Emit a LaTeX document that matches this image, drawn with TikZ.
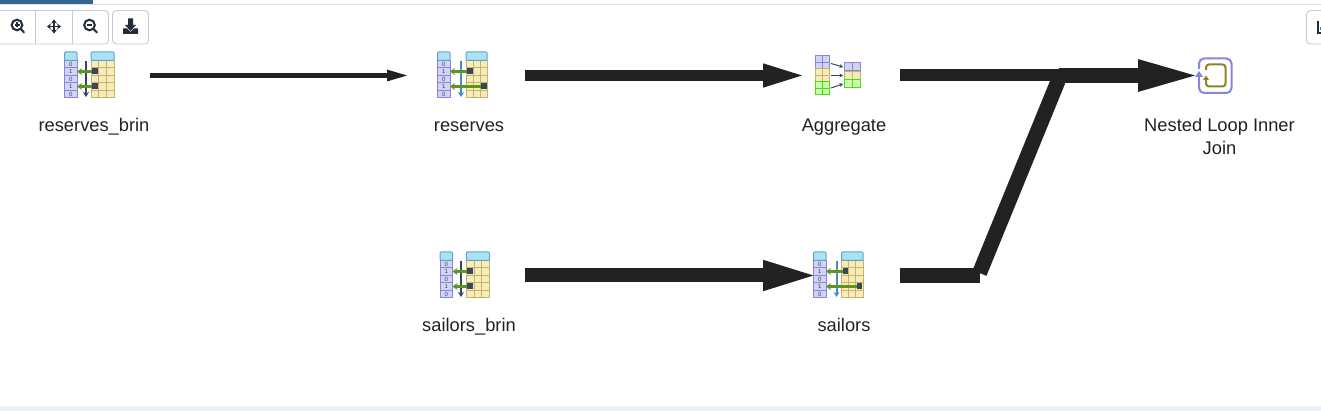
\documentclass[tikz,border=0pt]{standalone}
\usepackage{fontspec}
\setmainfont{Liberation Sans}
\usetikzlibrary{arrows.meta}
\definecolor{edgecol}{HTML}{222222}
\definecolor{btn}{HTML}{C5CAD6}
\definecolor{ink}{HTML}{222B38}
\definecolor{hdr}{HTML}{ACE0F2}
\definecolor{hdrl}{HTML}{5AA5CF}
\definecolor{purp}{HTML}{D2D3F5}
\definecolor{purpl}{HTML}{8486DF}
\definecolor{yel}{HTML}{F3EDB8}
\definecolor{yell}{HTML}{D2AE6C}
\definecolor{grn}{HTML}{C9FFA8}
\definecolor{grnl}{HTML}{4FD81A}
\definecolor{arrg}{HTML}{5E9420}
\definecolor{sq}{HTML}{34495E}
\definecolor{scanb}{HTML}{3F8FC4}
\definecolor{olive}{HTML}{8F8324}
\definecolor{rulecol}{HTML}{DDE2EA}
\definecolor{tabcol}{HTML}{34658F}
\definecolor{bandcol}{HTML}{ECF1F6}
\definecolor{bluecol}{HTML}{2F7FC1}
\tikzset{
  iconbox/.style={minimum width=120pt,minimum height=50pt,inner sep=0pt,outer sep=0pt},
  lbl/.style={font=\fontsize{18.3}{23}\selectfont,text=edgecol,inner sep=0pt,anchor=base},
  edge/.style={draw=edgecol,fill=edgecol,line cap=butt,line join=miter},
  cell/.style={line width=1pt},
  tool/.style={draw=ink,line width=2pt,line cap=round},
  bit/.style={font=\fontsize{6}{6}\selectfont,text=sq,inner sep=0pt},
}
% #1,#2 top-left of the left column; #3 scan arrow colour; #4 scan arrow x;
% #5 table left; #6, #7 centres of the two index squares (all relative)
\newcommand{\scanicon}[7]{%
  \begin{scope}[shift={(#1,#2)}]
    \fill[purp] (0,8.5) rectangle (12.5,46);
    \foreach \r in {0,...,4} \draw[cell,purpl] (0,8.5+\r*7.5) rectangle (12.5,16+\r*7.5);
    \fill[hdr,draw=hdrl,cell,rounded corners=1pt] (0,0) rectangle (12.5,8.5);
    \foreach \r/\d in {0/0,1/1,2/0,3/1,4/0} \node[bit] at (6.25,12.3+\r*7.5) {\d};
    \fill[yel] (#5,8.5) rectangle (49.5,46);
    \foreach \c in {0,1,2} \foreach \r in {0,...,4}
      \draw[cell,yell] ({#5+\c*(49.5-#5)/3},8.5+\r*7.5) rectangle ({#5+(\c+1)*(49.5-#5)/3},16+\r*7.5);
    \fill[hdr,draw=hdrl,cell,rounded corners=1pt] (#5,0) rectangle (49.5,8.5);
    \draw[#3,line width=2pt,-{Stealth[length=5pt,width=6pt]}] (#4,9) -- (#4,45);
    \draw[arrg,line width=2.4pt,-{Stealth[length=5pt,width=7pt]}] (#6,19.5) -- (12.5,19.5);
    \draw[arrg,line width=2.4pt,-{Stealth[length=5pt,width=7pt]}] (#7,34.5) -- (12.5,34.5);
    \fill[sq] (#6-2.7,16.5) rectangle (#6+2.7,22.5);
    \fill[sq] (#7-2.7,31.5) rectangle (#7+2.7,37.5);
  \end{scope}}
\begin{document}
\begin{tikzpicture}[x=1pt,y=-1pt]
\useasboundingbox (0,0) rectangle (1321,411);
\fill[white] (0,0) rectangle (1321,411);
% page furniture
\fill[rulecol] (0,4) rectangle (1321,5);
\fill[tabcol] (0,0) rectangle (93,4);
\fill[bandcol] (0,406) rectangle (1321,411);
% toolbar
\draw[btn,line width=.9pt,rounded corners=4pt] (-3,10.5) rectangle (108.5,44);
\draw[btn,line width=.9pt] (35.5,10.5) -- (35.5,44) (72.5,10.5) -- (72.5,44);
\draw[btn,line width=.9pt,rounded corners=4pt] (112.5,10.5) rectangle (148.5,44);
\draw[btn,line width=.9pt,rounded corners=4pt] (1323,10.5) -- (1306.5,10.5) -- (1306.5,44) -- (1323,44);
\draw[tool] (17,25) circle (5.3) (21,29) -- (24,32.5);
\draw[ink,line width=1.2pt] (14.5,25) -- (19.5,25) (17,22.5) -- (17,27.5);
\draw[ink,line width=1.6pt,{Stealth[length=4pt,width=6pt]}-{Stealth[length=4pt,width=6pt]}] (47,26.5) -- (61,26.5);
\draw[ink,line width=1.6pt,{Stealth[length=4pt,width=6pt]}-{Stealth[length=4pt,width=6pt]}] (54,19.5) -- (54,33.5);
\draw[tool] (89.5,25) circle (5.3) (93.5,29) -- (97,32.5);
\draw[ink,line width=1.2pt] (87,25) -- (92,25);
\fill[ink] (128,18.5) -- (133,18.5) -- (133,25) -- (136,25) -- (130.5,31) -- (125,25) -- (128,25) -- cycle;
\fill[ink] (123,28.5) -- (127,28.5) -- (130.5,32) -- (134,28.5) -- (138,28.5) -- (138,34) -- (123,34) -- cycle;
\draw[ink,line width=2pt] (1317.5,21) -- (1317.5,33) -- (1323,33);
\fill[bluecol] (1320,27) rectangle (1323,30);
% operation nodes
\node[iconbox] (rbrin) at (90,75.5) {};
\node[iconbox] (res) at (465,75.5) {};
\node[iconbox] (agg) at (840,75.5) {};
\node[iconbox] (nlj) at (1215,75.5) {};
\node[iconbox] (sbrin) at (465,275.5) {};
\node[iconbox] (sai) at (840,275.5) {};
\coordinate (res-in) at (410,75.5);
\coordinate (agg-in) at (810,75.5);
\coordinate (sai-in) at (823,275.5);
\coordinate (nlj-in) at (1207,75.5);
\coordinate (join) at (1059,75.5);
\coordinate (up-end) at (1060,75.5);
\coordinate (sai-bend) at (980,275.5);
\coordinate (dia-lo) at (979.5,273);
\coordinate (dia-hi) at (1060.5,75);
% connectors
\draw[edge,line width=5pt,-{Triangle[length=23pt,width=10pt]}] (rbrin.east) -- (res-in);
\draw[edge,line width=11pt,-{Triangle[length=47pt,width=20pt]}] (res.east) -- (agg-in);
\draw[edge,line width=14pt,-{Triangle[length=60pt,width=26pt]}] (sbrin.east) -- (sai-in);
\draw[edge,line width=12pt] (agg.east) -- (up-end);
\draw[edge,line width=15pt] (sai.east) -- (sai-bend);
\draw[edge,line width=15pt] (dia-lo) -- (dia-hi);
\draw[edge,line width=15pt,-{Triangle[length=69pt,width=27pt]}] (join) -- (nlj-in);
% icons
\scanicon{64.5}{52}{sq}{21.5}{26.5}{30.5}{30.5}
\scanicon{437.5}{52}{scanb}{23.5}{28.5}{32.5}{46.5}
\scanicon{440}{252}{sq}{21}{26.3}{30}{30}
\scanicon{813.5}{252}{scanb}{23}{28}{31.7}{45.7}
% aggregate icon
\begin{scope}
  \foreach \yy/\f/\l in {56/purp/purpl,69/yel/yell,82/grn/grnl}{
    \foreach \c in {0,1} \foreach \r in {0,1}
      \draw[cell,fill=\f,draw=\l] (815.5+\c*7,\yy+\r*6.5) rectangle (822.5+\c*7,\yy+6.5+\r*6.5);}
  \foreach \yy/\f/\l in {62.5/purp/purpl,71.5/yel/yell,79.5/grn/grnl}{
    \foreach \c in {0,1} \draw[cell,fill=\f,draw=\l] (844.5+\c*8,\yy) rectangle (852.5+\c*8,\yy+8.5);}
  \draw[sq,line width=1pt,-{Stealth[length=3.5pt,width=4pt]}] (831,63.5) -- (843,67);
  \draw[sq,line width=1pt,-{Stealth[length=3.5pt,width=4pt]}] (831,75.5) -- (843,75.5);
  \draw[sq,line width=1pt,-{Stealth[length=3.5pt,width=4pt]}] (831,88) -- (843,84);
\end{scope}
% nested loop icon
\draw[purpl,line width=2pt,rounded corners=5pt] (1199,81) -- (1199,93) -- (1231.5,93) -- (1231.5,58.5) -- (1199,58.5) -- (1199,69);
\fill[purpl] (1195,77) -- (1199,71) -- (1203,77) -- cycle;
\draw[purpl,line width=2pt] (1199,76) -- (1199,82);
\draw[olive,line width=2pt,rounded corners=3pt] (1206,80) -- (1206,86.5) -- (1225.5,86.5) -- (1225.5,64.5) -- (1206,64.5) -- (1206,70);
\fill[olive] (1203,80) -- (1206,75.5) -- (1209,80) -- cycle;
% labels
\node[lbl] (t1) at (94,131.5) {reserves\_brin};
\node[lbl] (t2) at (469,131.5) {reserves};
\node[lbl] (t3) at (844,131.5) {Aggregate};
\node[lbl] (t4a) at (1219.5,131.5) {Nested Loop Inner};
\node[lbl] (t4b) at (1219.5,154.5) {Join};
\node[lbl] (t5) at (469,331.5) {sailors\_brin};
\node[lbl] (t6) at (844,331.5) {sailors};
\end{tikzpicture}
\end{document}
